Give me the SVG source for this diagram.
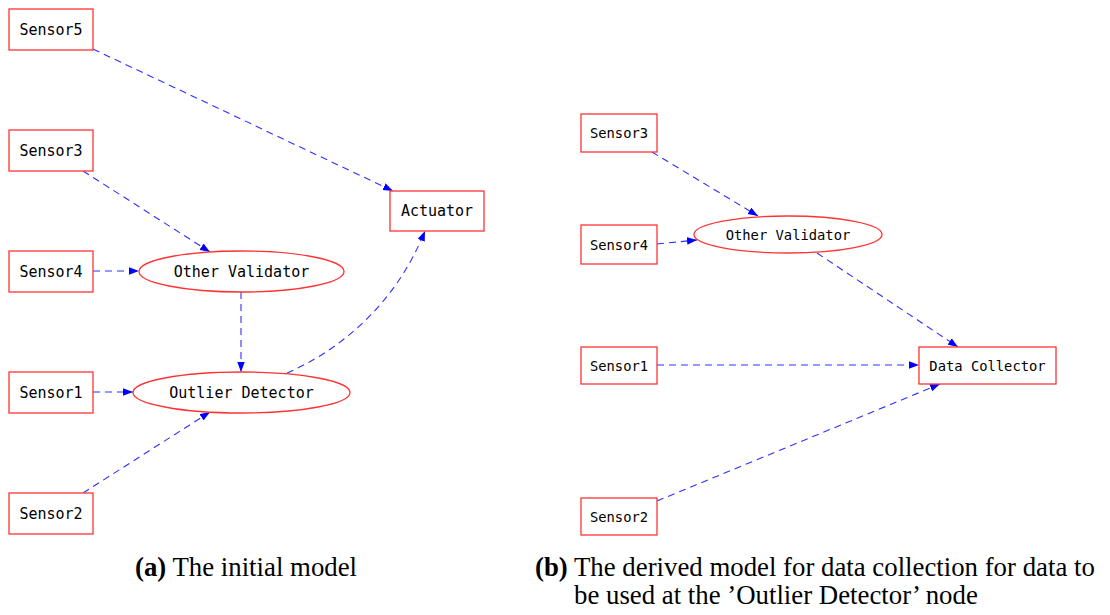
<svg xmlns="http://www.w3.org/2000/svg" width="1110" height="615" viewBox="0 0 1110 615">
<style>
.box{fill:#fff;stroke:#ff3333;stroke-width:1.3}
.e{fill:none;stroke:#2f2fff;stroke-width:1.1;stroke-dasharray:7,5}
.tl{font-family:"DejaVu Sans Mono",monospace;font-size:15px;fill:#000;text-anchor:middle;dominant-baseline:central}
.tr{font-family:"DejaVu Sans Mono",monospace;font-size:13.8px;fill:#000;text-anchor:middle;dominant-baseline:central}
.cap{font-family:"Liberation Serif","Times New Roman",serif;font-size:26.8px;fill:#000}
</style>
<defs>
<marker id="ah" markerUnits="userSpaceOnUse" markerWidth="11" markerHeight="8" refX="10" refY="3.75" orient="auto">
<path d="M0,0 L10,3.75 L0,7.5 z" fill="#0000ff"/>
</marker>
</defs>
<rect width="1110" height="615" fill="#fff"/>
<g id="connectors">
<path class="e" marker-end="url(#ah)" d="M93,49 L393,191"/>
<path class="e" marker-end="url(#ah)" d="M83,171 L210,252"/>
<path class="e" marker-end="url(#ah)" d="M93,271 L139,271"/>
<path class="e" marker-end="url(#ah)" d="M241,292 L241,372"/>
<path class="e" marker-end="url(#ah)" d="M93,392 L133,392"/>
<path class="e" marker-end="url(#ah)" d="M83,493 L210,412"/>
<path class="e" marker-end="url(#ah)" d="M287,373 C340,350 395,305 425,231"/>
<path class="e" marker-end="url(#ah)" d="M652,152 L758,216"/>
<path class="e" marker-end="url(#ah)" d="M657,244 L697,240"/>
<path class="e" marker-end="url(#ah)" d="M817,253 L958,347"/>
<path class="e" marker-end="url(#ah)" d="M657,365 L919,365"/>
<path class="e" marker-end="url(#ah)" d="M657,501 L940,384"/>
</g>
<g id="a-sensor5"><rect class="box" x="9" y="9" width="84" height="41"/><text class="tl" x="51" y="29.5">Sensor5</text></g>
<g id="a-sensor3"><rect class="box" x="9" y="130" width="84" height="41"/><text class="tl" x="51" y="150.5">Sensor3</text></g>
<g id="a-sensor4"><rect class="box" x="9" y="251" width="84" height="41"/><text class="tl" x="51" y="271.5">Sensor4</text></g>
<g id="a-sensor1"><rect class="box" x="9" y="372" width="84" height="41"/><text class="tl" x="51" y="392.5">Sensor1</text></g>
<g id="a-sensor2"><rect class="box" x="9" y="493" width="84" height="41"/><text class="tl" x="51" y="513.5">Sensor2</text></g>
<g id="a-actuator"><rect class="box" x="390" y="191" width="94" height="40"/><text class="tl" x="437" y="211">Actuator</text></g>
<g id="a-other-validator"><ellipse class="box" cx="241.5" cy="271.5" rx="102.5" ry="20.5"/><text class="tl" x="241.5" y="271.5">Other Validator</text></g>
<g id="a-outlier-detector"><ellipse class="box" cx="241.5" cy="392.5" rx="108.5" ry="20.5"/><text class="tl" x="241.5" y="392.5">Outlier Detector</text></g>
<g id="b-sensor3"><rect class="box" x="581" y="114" width="76" height="38"/><text class="tr" x="619" y="133">Sensor3</text></g>
<g id="b-sensor4"><rect class="box" x="581" y="225" width="76" height="39"/><text class="tr" x="619" y="244.5">Sensor4</text></g>
<g id="b-sensor1"><rect class="box" x="581" y="347" width="76" height="37"/><text class="tr" x="619" y="365.5">Sensor1</text></g>
<g id="b-sensor2"><rect class="box" x="581" y="498" width="76" height="37"/><text class="tr" x="619" y="516.5">Sensor2</text></g>
<g id="b-other-validator"><ellipse class="box" cx="788" cy="234.5" rx="94" ry="18.5"/><text class="tr" x="788" y="234.5">Other Validator</text></g>
<g id="b-data-collector"><rect class="box" x="919" y="347" width="137" height="37"/><text class="tr" x="987.5" y="365.5">Data Collector</text></g>
<g id="captions">
<text class="cap" x="135" y="576"><tspan font-weight="bold">(a)</tspan> The initial model</text>
<text class="cap" x="535" y="576"><tspan font-weight="bold">(b)</tspan> The derived model for data collection for data to</text>
<text class="cap" x="574" y="604">be used at the ’Outlier Detector’ node</text>
</g>
</svg>
